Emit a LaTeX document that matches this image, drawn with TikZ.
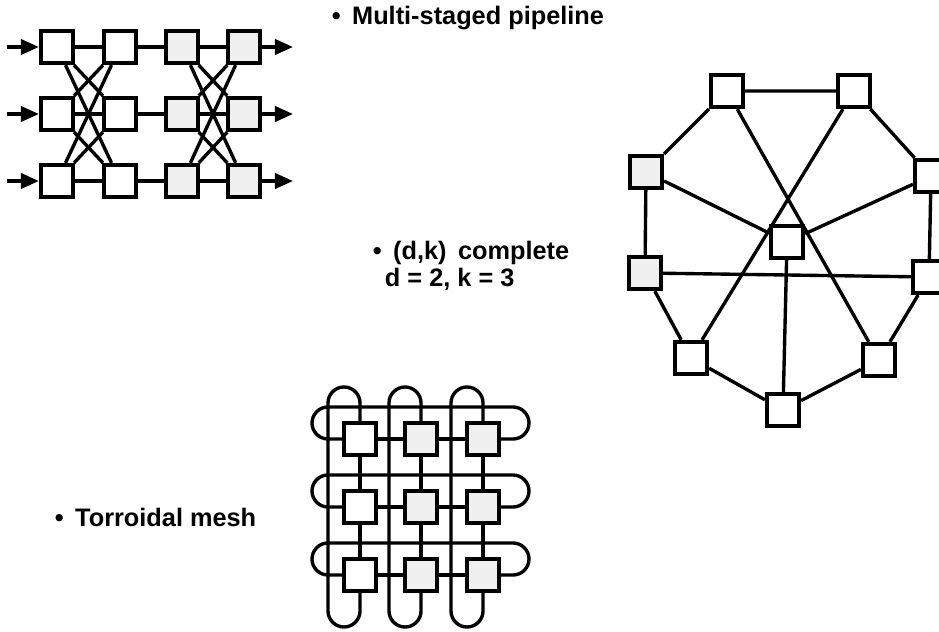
\documentclass[tikz,border=0pt]{standalone}
\usepackage{fontspec}
\setmainfont{Liberation Sans}
\usetikzlibrary{arrows.meta}
\begin{document}
\begin{tikzpicture}[x=0.025cm,y=0.025cm,
  every node/.style={font=\fontsize{18}{21}\selectfont\bfseries},
  cell/.style={draw,line width=3pt,fill=white,minimum size=0.8cm,inner sep=0pt},
  grainy/.style={cell,fill=black!6},
  link/.style={line width=2.4pt},
  flow/.style={line width=2.4pt,-{Triangle[length=0.45cm,width=0.38cm]}}]
  \useasboundingbox (0,0) rectangle (939,631);

  % Multi-staged pipeline
  \node[anchor=base west] (pipelab) at (327,606)
    {\textbullet\hspace{0.45em}Multi-staged pipeline};
  \foreach \r/\y in {1/584,2/517,3/450} {
    \node[cell] (p\r1) at (57,\y) {};
    \node[cell] (p\r2) at (120,\y) {};
    \node[grainy] (p\r3) at (182,\y) {};
    \node[grainy] (p\r4) at (244,\y) {};
    \coordinate (in\r) at (7,\y);
    \coordinate (out\r) at (293,\y);
    \draw[flow] (in\r) -- (p\r1);
    \draw[flow] (p\r4) -- (out\r);
    \draw[link] (p\r1) -- (p\r2) -- (p\r3) -- (p\r4);
  }
  \foreach \r/\s in {1/2,1/3,2/1,2/3,3/1,3/2} {
    \draw[link] (p\r1) -- (p\s2);
    \draw[link] (p\r3) -- (p\s4);
  }

  % (d,k) complete graph
  \node[anchor=base west] (dklab) at (368,371)
    {\textbullet\hspace{0.45em}(d,k)\hspace{0.45em}complete};
  \node[anchor=base west] (dkval) at (380,344) {d = 2, k = 3};

  \node[cell] (nw) at (727,540) {};
  \node[cell] (ne) at (854,540) {};
  \node[grainy] (wu) at (646,459) {};
  \node[cell] (eu) at (931,455) {};
  \node[grainy] (wl) at (645,358) {};
  \node[cell] (el) at (929,354) {};
  \node[cell] (sw) at (691,273) {};
  \node[cell] (se) at (879,271) {};
  \node[cell] (so) at (783,221) {};
  \node[cell] (hub) at (787,389) {};
  \draw[link] (nw) -- (ne) -- (eu) -- (el) -- (se) -- (so) -- (sw) -- (wl) -- (wu) -- (nw);
  \draw[link] (wu) -- (hub) -- (eu);
  \draw[link] (so) -- (hub);
  \draw[link] (wl) -- (el);
  \draw[link] (nw) -- (se);
  \draw[link] (ne) -- (sw);

  % Torroidal mesh
  \node[anchor=base west] (torlab) at (50,104)
    {\textbullet\hspace{0.45em}Torroidal mesh};
  \foreach \r/\y in {1/192,2/124,3/56}
    \foreach \c/\x/\look in {1/360/cell,2/421/grainy,3/483/grainy}
      \node[\look] (m\r\c) at (\x,\y) {};
  \foreach \r/\y in {1/192,2/124,3/56} {
    \draw[link] (m\r1) -- (m\r2) -- (m\r3);
    \draw[link] (m\r1.west) -- (328,\y)
      arc[start angle=270,end angle=90,radius=0.4cm] -- (513,\y+32)
      arc[start angle=90,end angle=-90,radius=0.4cm] -- (m\r3.east);
  }
  \foreach \c/\x in {1/360,2/421,3/483} {
    \draw[link] (m1\c) -- (m2\c) -- (m3\c);
    \draw[link] (m1\c.north) -- (\x,228)
      arc[start angle=0,end angle=180,radius=0.4cm] -- (\x-32,20)
      arc[start angle=180,end angle=360,radius=0.4cm] -- (m3\c.south);
  }
\end{tikzpicture}
\end{document}
